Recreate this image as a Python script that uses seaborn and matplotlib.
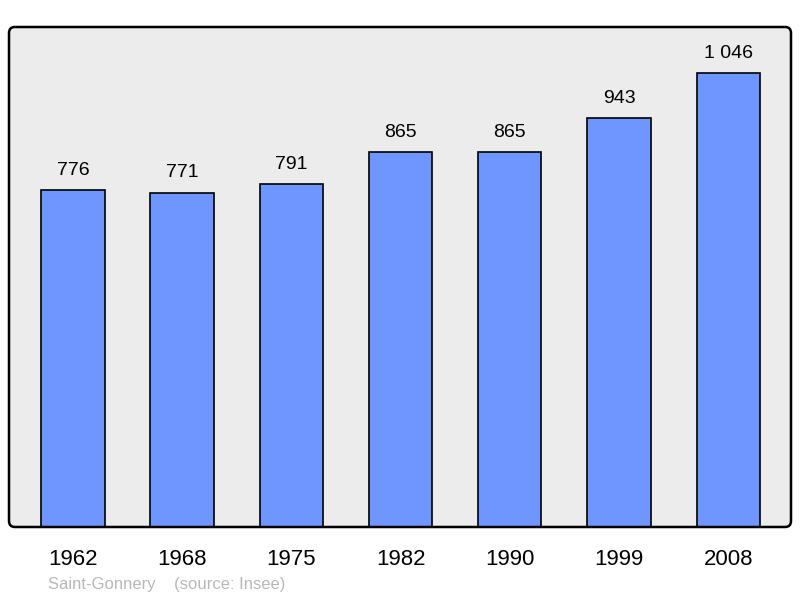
import pandas as pd
import seaborn as sns
import matplotlib.pyplot as plt
from matplotlib.patches import FancyBboxPatch

years = ["1962", "1968", "1975", "1982", "1990", "1999", "2008"]
population = [776, 771, 791, 865, 865, 943, 1046]
value_labels = ["776", "771", "791", "865", "865", "943", "1 046"]

df = pd.DataFrame({"year": years, "population": population})

sns.set_style("white")
plt.rcParams["font.family"] = ["Liberation Sans", "DejaVu Sans"]

fig = plt.figure(figsize=(8, 5.98), dpi=100)
ax = fig.add_axes([9 / 800, 1 - 527 / 598, 782 / 800, 500 / 598])
ax.patch.set_visible(False)

# rounded panel: grey fill behind the axes, black frame on top
box = dict(boxstyle="round,pad=0,rounding_size=6", transform=None)
fig.patches.append(FancyBboxPatch((9, 71), 782, 500, facecolor="#ececec",
                                  edgecolor="none", zorder=-1, figure=fig, **box))
fig.patches.append(FancyBboxPatch((9, 71), 782, 500, facecolor="none",
                                  edgecolor="black", linewidth=1.8, zorder=2,
                                  figure=fig, **box))

sns.barplot(data=df, x="year", y="population", color="#6f96ff", width=0.58,
            edgecolor="black", linewidth=1.2, saturation=1, ax=ax)

for i, (v, lab) in enumerate(zip(population, value_labels)):
    ax.text(i, v + 35, lab, ha="center", va="baseline", fontsize=14, color="black")

ax.set_xlim(-0.585, 6.575)
ax.set_ylim(0, 1153)
ax.set_yticks([])
ax.set_xlabel("")
ax.set_ylabel("")
ax.tick_params(axis="x", length=0, labelsize=16, pad=16, labelcolor="black")
for s in ax.spines.values():
    s.set_visible(False)

fig.text(48 / 800, 1 - 584 / 598, "Saint-Gonnery    (source: Insee)",
         fontsize=12, color="#b8b8b8", va="center", ha="left")

fig.savefig("out.png", dpi=100)
